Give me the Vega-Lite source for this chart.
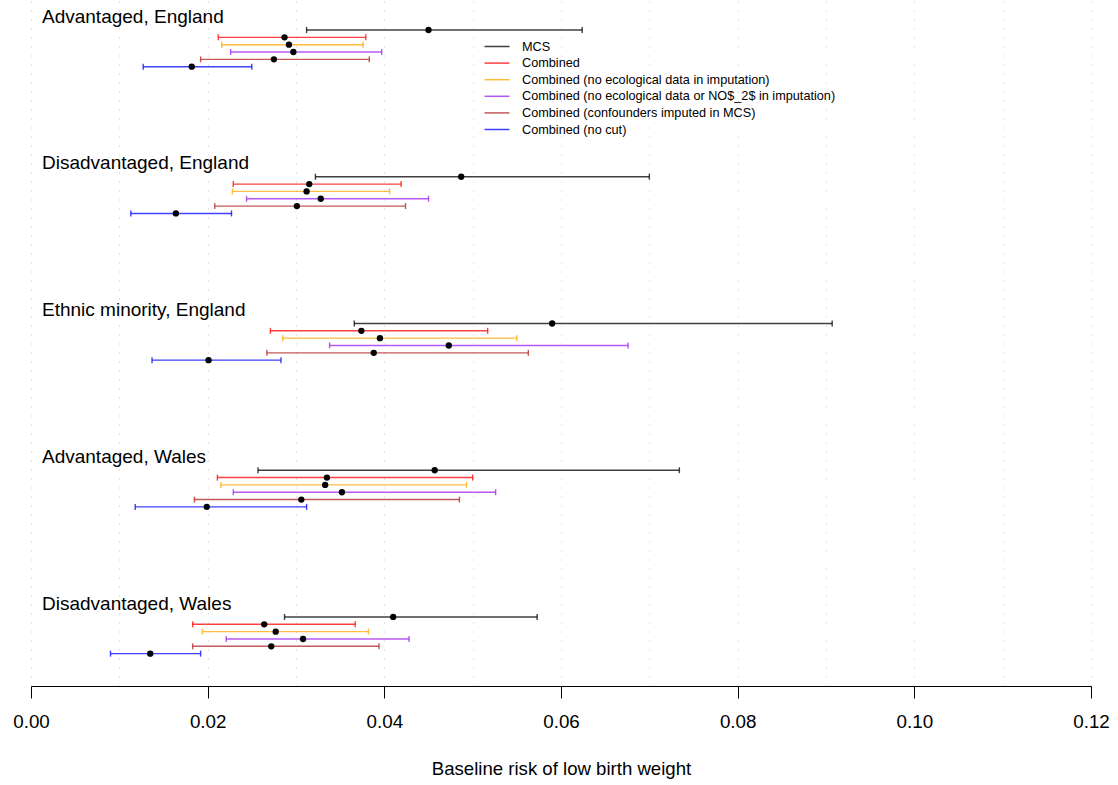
{
  "$schema": "https://vega.github.io/schema/vega-lite/v6.json",
  "width": 1060,
  "height": 686,
  "autosize": "none",
  "padding": {"left": 31, "top": 0, "right": 27, "bottom": 99},
  "background": "white",
  "config": {
    "view": {"stroke": null},
    "font": "Liberation Sans",
    "text": {"font": "Liberation Sans"}
  },
  "datasets": {
    "est": [
      {"group": "Advantaged, England", "series": "MCS", "row": 4, "est": 0.0450, "lo": 0.0312, "hi": 0.0624},
      {"group": "Advantaged, England", "series": "Combined", "row": 5, "est": 0.0287, "lo": 0.0212, "hi": 0.0379},
      {"group": "Advantaged, England", "series": "Combined (no ecological data in imputation)", "row": 6, "est": 0.0292, "lo": 0.0216, "hi": 0.0376},
      {"group": "Advantaged, England", "series": "Combined (no ecological data or NO$_2$ in imputation)", "row": 7, "est": 0.0297, "lo": 0.0226, "hi": 0.0397},
      {"group": "Advantaged, England", "series": "Combined (confounders imputed in MCS)", "row": 8, "est": 0.0275, "lo": 0.0192, "hi": 0.0383},
      {"group": "Advantaged, England", "series": "Combined (no cut)", "row": 9, "est": 0.0182, "lo": 0.0127, "hi": 0.0250},

      {"group": "Disadvantaged, England", "series": "MCS", "row": 24, "est": 0.0487, "lo": 0.0322, "hi": 0.0700},
      {"group": "Disadvantaged, England", "series": "Combined", "row": 25, "est": 0.0315, "lo": 0.0229, "hi": 0.0419},
      {"group": "Disadvantaged, England", "series": "Combined (no ecological data in imputation)", "row": 26, "est": 0.0312, "lo": 0.0228, "hi": 0.0406},
      {"group": "Disadvantaged, England", "series": "Combined (no ecological data or NO$_2$ in imputation)", "row": 27, "est": 0.0328, "lo": 0.0244, "hi": 0.0450},
      {"group": "Disadvantaged, England", "series": "Combined (confounders imputed in MCS)", "row": 28, "est": 0.0301, "lo": 0.0208, "hi": 0.0424},
      {"group": "Disadvantaged, England", "series": "Combined (no cut)", "row": 29, "est": 0.0164, "lo": 0.0113, "hi": 0.0227},

      {"group": "Ethnic minority, England", "series": "MCS", "row": 44, "est": 0.0590, "lo": 0.0366, "hi": 0.0907},
      {"group": "Ethnic minority, England", "series": "Combined", "row": 45, "est": 0.0374, "lo": 0.0271, "hi": 0.0517},
      {"group": "Ethnic minority, England", "series": "Combined (no ecological data in imputation)", "row": 46, "est": 0.0395, "lo": 0.0285, "hi": 0.0550},
      {"group": "Ethnic minority, England", "series": "Combined (no ecological data or NO$_2$ in imputation)", "row": 47, "est": 0.0473, "lo": 0.0338, "hi": 0.0676},
      {"group": "Ethnic minority, England", "series": "Combined (confounders imputed in MCS)", "row": 48, "est": 0.0388, "lo": 0.0267, "hi": 0.0563},
      {"group": "Ethnic minority, England", "series": "Combined (no cut)", "row": 49, "est": 0.0201, "lo": 0.0137, "hi": 0.0283},

      {"group": "Advantaged, Wales", "series": "MCS", "row": 64, "est": 0.0457, "lo": 0.0257, "hi": 0.0734},
      {"group": "Advantaged, Wales", "series": "Combined", "row": 65, "est": 0.0335, "lo": 0.0211, "hi": 0.0500},
      {"group": "Advantaged, Wales", "series": "Combined (no ecological data in imputation)", "row": 66, "est": 0.0333, "lo": 0.0215, "hi": 0.0493},
      {"group": "Advantaged, Wales", "series": "Combined (no ecological data or NO$_2$ in imputation)", "row": 67, "est": 0.0352, "lo": 0.0229, "hi": 0.0526},
      {"group": "Advantaged, Wales", "series": "Combined (confounders imputed in MCS)", "row": 68, "est": 0.0306, "lo": 0.0185, "hi": 0.0485},
      {"group": "Advantaged, Wales", "series": "Combined (no cut)", "row": 69, "est": 0.0199, "lo": 0.0118, "hi": 0.0312},

      {"group": "Disadvantaged, Wales", "series": "MCS", "row": 84, "est": 0.0410, "lo": 0.0287, "hi": 0.0573},
      {"group": "Disadvantaged, Wales", "series": "Combined", "row": 85, "est": 0.0264, "lo": 0.0183, "hi": 0.0367},
      {"group": "Disadvantaged, Wales", "series": "Combined (no ecological data in imputation)", "row": 86, "est": 0.0277, "lo": 0.0194, "hi": 0.0382},
      {"group": "Disadvantaged, Wales", "series": "Combined (no ecological data or NO$_2$ in imputation)", "row": 87, "est": 0.0308, "lo": 0.0221, "hi": 0.0428},
      {"group": "Disadvantaged, Wales", "series": "Combined (confounders imputed in MCS)", "row": 88, "est": 0.0272, "lo": 0.0183, "hi": 0.0394},
      {"group": "Disadvantaged, Wales", "series": "Combined (no cut)", "row": 89, "est": 0.0135, "lo": 0.0090, "hi": 0.0192}
    ],
    "labels": [
      {"group": "Advantaged, England", "row": 3},
      {"group": "Disadvantaged, England", "row": 23},
      {"group": "Ethnic minority, England", "row": 43},
      {"group": "Advantaged, Wales", "row": 63},
      {"group": "Disadvantaged, Wales", "row": 83}
    ]
  },
  "resolve": {"axis": {"x": "independent"}},
  "layer": [
    {
      "data": {"name": "est"},
      "mark": {"type": "rule", "strokeWidth": 1.4, "opacity": 0.75},
      "encoding": {
        "x": {
          "field": "lo", "type": "quantitative",
          "scale": {"domain": [0, 0.12], "nice": false, "zero": false},
          "axis": {
            "orient": "bottom",
            "values": [0, 0.01, 0.02, 0.03, 0.04, 0.05, 0.06, 0.07, 0.08, 0.09, 0.1, 0.11, 0.12],
            "grid": true, "gridColor": "#c8c8c8", "gridDash": [1, 8], "gridWidth": 1,
            "labels": false, "ticks": false, "domain": false, "title": null
          }
        },
        "x2": {"field": "hi"},
        "y": {
          "field": "row", "type": "quantitative",
          "scale": {"domain": [-0.09, 93.41], "nice": false, "zero": false, "reverse": true},
          "axis": null
        },
        "color": {
          "field": "series", "type": "nominal",
          "scale": {
            "domain": ["MCS", "Combined", "Combined (no ecological data in imputation)", "Combined (no ecological data or NO$_2$ in imputation)", "Combined (confounders imputed in MCS)", "Combined (no cut)"],
            "range": ["#000000", "#ff0000", "#ffa500", "#a020f0", "#b22222", "#0000ff"]
          },
          "legend": {
            "orient": "none", "legendX": 457.5, "legendY": 38,
            "title": null, "padding": 0,
            "symbolType": "M-1.667,0H1.667", "symbolSize": 225, "symbolStrokeWidth": 1.5,
            "symbolOpacity": 0.75,
            "labelFont": "Liberation Sans", "labelFontSize": 12.7, "labelColor": "#000000",
            "labelOffset": 16.5, "rowPadding": 0.6, "labelLimit": 500
          }
        }
      }
    },
    {
      "data": {"name": "est"},
      "mark": {"type": "tick", "orient": "vertical", "size": 6, "thickness": 1.4, "opacity": 0.75},
      "encoding": {
        "x": {
          "field": "lo", "type": "quantitative",
          "axis": {
            "orient": "bottom",
            "values": [0, 0.02, 0.04, 0.06, 0.08, 0.1, 0.12],
            "format": ".2f", "grid": false, "labelFlush": false, "labelOverlap": false,
            "domainColor": "#000000", "domainWidth": 1,
            "tickColor": "#000000", "tickSize": 12, "tickWidth": 1,
            "labelFont": "Liberation Sans", "labelFontSize": 18.8, "labelColor": "#000000",
            "labelPadding": 14,
            "title": "Baseline risk of low birth weight",
            "titleFont": "Liberation Sans", "titleFontSize": 18.6, "titleFontWeight": "normal",
            "titleColor": "#000000", "titlePadding": 29
          }
        },
        "y": {"field": "row", "type": "quantitative"},
        "color": {"field": "series", "type": "nominal"}
      }
    },
    {
      "data": {"name": "est"},
      "mark": {"type": "tick", "orient": "vertical", "size": 6, "thickness": 1.4, "opacity": 0.75},
      "encoding": {
        "x": {"field": "hi", "type": "quantitative", "axis": null},
        "y": {"field": "row", "type": "quantitative"},
        "color": {"field": "series", "type": "nominal"}
      }
    },
    {
      "data": {"name": "est"},
      "mark": {"type": "point", "shape": "circle", "filled": true, "size": 40, "color": "#000000", "opacity": 1},
      "encoding": {
        "x": {"field": "est", "type": "quantitative", "axis": null},
        "y": {"field": "row", "type": "quantitative"}
      }
    },
    {
      "data": {"name": "labels"},
      "mark": {"type": "text", "align": "left", "baseline": "alphabetic", "dx": 11, "font": "Liberation Sans", "fontSize": 19, "color": "#000000"},
      "encoding": {
        "x": {"datum": 0, "type": "quantitative", "axis": null},
        "y": {"field": "row", "type": "quantitative"},
        "text": {"field": "group"}
      }
    }
  ]
}
